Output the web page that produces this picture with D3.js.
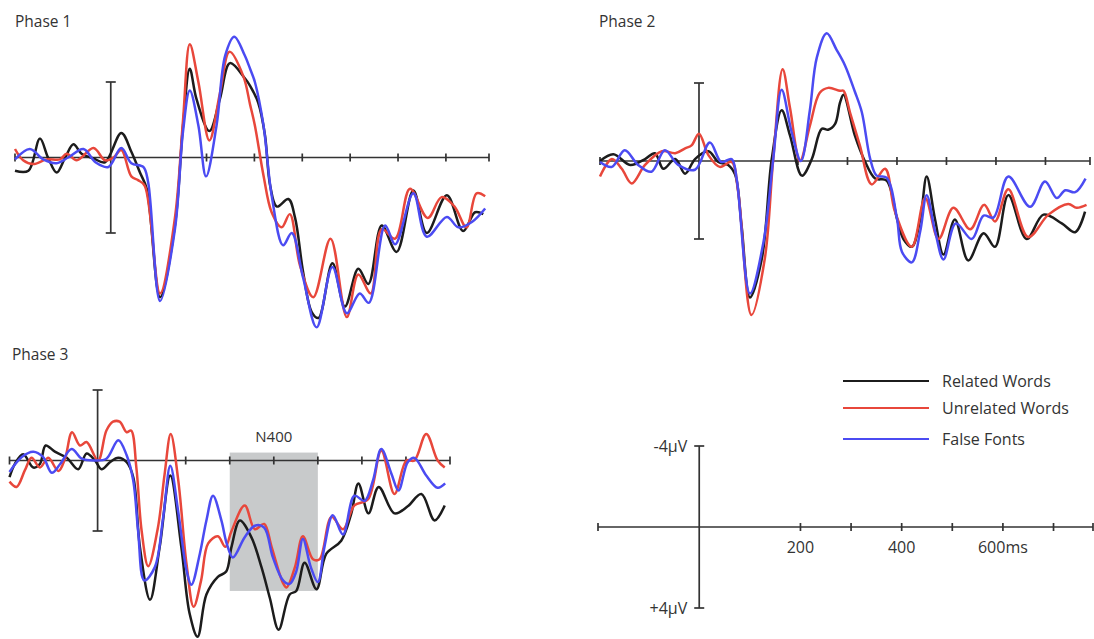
<!DOCTYPE html>
<html lang="en">
<head>
<meta charset="UTF-8">
<title>ERP waveforms - Phase 1-3</title>
<script src="https://d3js.org/d3.v7.min.js"></script>
<style>
body { margin: 0; background: #fff; }
svg text { font-family: "Open Sans", "Noto Sans", sans-serif; fill: #333; }
.wave { fill: none; stroke-width: 2.5px; stroke-linejoin: round; }
.axis { stroke: #333; stroke-width: 1.7px; fill: none; }
</style>
</head>
<body>
<div id="chart"></div>
<script>
// series = [ms, µV] pairs, negative plotted up
var seriesNames = ["Related Words", "Unrelated Words", "False Fonts"];
var seriesColors = ["#1c1c1c", "#e8473b", "#4b4bf2"];
var tickValues = [200, 300, 400, 500, 600, 700];
var scaleLabels = [200, 400, 600];
var scaleVolts = [-4, 4];
var n400Window = [300, 500];
var n400Volts = [-0.45, 7.4];

var p1Related = [[-200,0.7],[-172,0.7],[-148,-1.0],[-131,0],[-113,0.8],[-96,0.05],[-78,-0.7],[-61,-0.2],[-36,0.05],[-12,0.25],[22,-1.3],[43,-0.3],[61,0.8],[75,1.65],[103,7.4],[134,3.6],[151,-1.7],[165,-4.7],[179,-3.1],[206,-1.4],[228,-3.1],[249,-5.0],[280,-4.2],[291,-3.8],[308,-2.9],[322,-1.2],[333,1.5],[347,2.6],[371,2.2],[385,3.2],[402,6.1],[420,8.2],[434,8.5],[463,5.6],[489,7.9],[517,5.9],[538,6.7],[566,3.6],[597,5.0],[632,1.75],[660,4.0],[702,2.0],[736,3.9],[761,2.9],[778,3.0]];
var p1Unrelated = [[-200,-0.45],[-183,0.15],[-162,0.35],[-134,0.1],[-106,0.1],[-92,-0.2],[-71,0.15],[-36,-0.5],[-12,0.15],[6,0],[22,-0.4],[43,1.0],[57,1.2],[71,1.5],[103,7.2],[134,3.2],[151,-2.0],[165,-6.0],[183,-4.0],[206,-0.9],[228,-3.4],[248,-5.6],[277,-4.3],[291,-2.8],[301,-1.7],[319,0.95],[336,2.9],[357,3.7],[374,3.0],[395,5.7],[423,7.4],[459,4.3],[493,8.45],[517,6.2],[543,7.2],[566,3.8],[594,4.3],[625,1.65],[662,3.2],[691,2.1],[718,2.6],[743,3.7],[764,1.9],[782,2.05]];
var p1False = [[-200,0.1],[-169,-0.45],[-141,0.1],[-113,0.3],[-89,0],[-57,-0.45],[-32,0.25],[-5,0.5],[22,-0.5],[43,0.3],[68,0.5],[78,1.3],[103,7.6],[134,3.8],[151,-1.4],[165,-3.55],[183,-1.7],[199,1.0],[221,-1.7],[239,-5.4],[258,-6.4],[280,-5.4],[291,-4.7],[301,-4.0],[319,-1.7],[336,2.0],[360,4.65],[378,4.0],[402,6.4],[430,9.0],[463,5.8],[493,8.25],[520,7.2],[539,7.7],[573,3.6],[594,4.6],[632,1.9],[660,4.2],[702,3.15],[726,3.7],[755,3.4],[782,2.7]];

var p2Related = [[-200,0],[-173,-0.35],[-139,0.2],[-109,-0.1],[-89,-0.4],[-72,0.4],[-48,-0.1],[-28,0.65],[-8,-0.1],[19,-0.5],[39,0.05],[59,0.2],[73,0.7],[86,3.3],[103,7.0],[127,5.0],[147,-0.1],[167,-2.6],[184,-1.3],[208,0.75],[228,-0.1],[248,-1.65],[261,-1.6],[275,-1.9],[285,-3.0],[292,-3.4],[315,-1.3],[335,0],[356,0.9],[379,1.0],[400,2.95],[413,4.0],[430,4.4],[447,3.0],[460,0.8],[477,3.0],[494,4.8],[517,3.0],[544,5.1],[575,3.7],[598,4.4],[625,1.75],[662,4.0],[696,2.75],[733,3.2],[760,3.65],[780,2.6]];
var p2Unrelated = [[-200,0.8],[-176,-0.1],[-156,0.4],[-136,1.15],[-109,0.2],[-75,-0.5],[-48,-0.4],[-28,-0.65],[-15,-0.8],[0,-1.4],[19,-0.3],[42,0.3],[66,0.05],[79,1.55],[106,7.9],[133,5.0],[150,-0.1],[169,-4.7],[184,-2.7],[204,0],[224,-1.8],[244,-3.5],[261,-3.75],[285,-3.6],[292,-3.6],[305,-2.5],[325,-0.8],[349,1.2],[376,0.4],[396,2.6],[430,4.4],[457,1.9],[484,4.0],[514,2.4],[548,3.5],[576,2.25],[598,3.1],[625,1.45],[665,3.9],[706,2.75],[746,2.2],[763,2.4],[783,2.25]];
var p2False = [[-200,0.05],[-176,0.3],[-150,-0.55],[-123,0.2],[-96,0.55],[-69,-0.55],[-42,0.2],[-8,0.45],[22,-0.95],[45,0.05],[66,-0.1],[76,0.9],[103,6.8],[130,4.2],[150,-0.1],[167,-3.65],[187,-1.5],[206,0],[224,-2.6],[238,-5.3],[258,-6.55],[278,-5.7],[295,-4.9],[315,-3.55],[329,-2.5],[346,-0.1],[359,0.75],[379,0.85],[400,2.95],[410,4.65],[430,5.2],[447,3.6],[460,1.75],[477,3.6],[494,5.05],[519,3.2],[551,4.0],[575,2.8],[595,2.9],[625,0.8],[669,2.35],[699,1.05],[723,1.9],[740,1.5],[760,1.6],[781,0.9]];

var p3Related = [[-200,0.95],[-188,0.2],[-169,-0.35],[-146,0.4],[-131,0.2],[-118,-0.85],[-97,-0.5],[-70,-0.15],[-44,0.5],[-25,-0.4],[-6,0],[9,0.5],[28,0.1],[47,-0.15],[66,0.1],[81,0.95],[96,4.9],[119,7.9],[141,4.9],[165,0.85],[190,4.9],[209,8.7],[227,10.0],[247,7.6],[273,6.6],[292,6.3],[304,4.9],[323,3.4],[349,4.35],[372,6.05],[391,7.8],[411,9.6],[436,7.6],[451,7.4],[470,5.8],[497,7.3],[519,5.3],[553,4.55],[576,3.0],[592,1.3],[615,3.0],[638,1.5],[674,3.0],[704,2.6],[735,1.9],[765,3.4],[788,2.55]];
var p3Unrelated = [[-200,1.2],[-184,1.5],[-165,0.55],[-150,-0.15],[-131,0.4],[-112,-0.15],[-89,0.6],[-74,-0.1],[-58,-1.6],[-40,-0.85],[-25,-1.05],[1,0],[20,-1.7],[35,-2.2],[50,-2.2],[66,-1.6],[76,-1.7],[88,0.4],[100,4.0],[115,6.0],[137,3.8],[152,0.8],[166,-1.5],[183,1.1],[202,5.9],[218,8.3],[235,6.8],[251,4.7],[273,4.3],[290,4.9],[304,4.0],[334,2.55],[357,3.9],[378,3.6],[395,4.9],[420,6.9],[429,7.2],[448,6.05],[466,4.3],[489,5.6],[504,5.6],[531,3.2],[557,3.9],[583,2.55],[614,2.2],[644,-0.55],[674,1.9],[701,0],[719,0],[746,-1.5],[772,0],[788,0.4]];
var p3False = [[-200,0.65],[-172,-0.2],[-146,-0.5],[-124,-0.2],[-104,0.7],[-85,0.2],[-59,-0.65],[-36,-0.1],[-6,0],[20,-0.1],[47,-1.15],[66,-0.3],[81,1.15],[92,4.0],[106,6.8],[130,6.05],[149,3.2],[165,0.3],[183,2.9],[202,6.25],[213,7.05],[232,5.3],[247,3.4],[262,2.0],[281,3.4],[293,4.7],[307,5.5],[334,4.35],[357,3.7],[378,3.8],[398,5.5],[421,6.8],[436,7.0],[451,6.3],[466,4.45],[484,6.05],[500,6.9],[515,4.9],[534,3.1],[557,4.2],[583,2.0],[606,2.3],[625,1.15],[644,-0.65],[667,0.75],[683,1.7],[704,0.1],[719,-0.15],[746,0.85],[772,1.55],[789,1.3]];

var width = 1094, height = 639;
var svg = d3.select("#chart").append("svg")
    .attr("width", width).attr("height", height);

// panel layout (pixels)
var panels = [
    {title: "Phase 1", data: [p1Related, p1Unrelated, p1False], left: 15, right: 489, tEnd: 790, top: 82, bottom: 233, tx: 15, ty: 27},
    {title: "Phase 2", data: [p2Related, p2Unrelated, p2False], left: 600, right: 1090, tEnd: 790, top: 83, bottom: 239, tx: 599, ty: 27},
    {title: "Phase 3", data: [p3Related, p3Unrelated, p3False], left: 9.5, right: 450, tEnd: 800, top: 390, bottom: 531, tx: 12, ty: 360, n400: true}
];
var scalePanel = {left: 598, right: 1093, tEnd: 778, top: 446, bottom: 608};

function drawFrame(g, p, x, y) {
    var y0 = y(0);
    g.append("line").attr("class", "axis")
        .attr("x1", x(-200)).attr("x2", x(p.tEnd)).attr("y1", y0).attr("y2", y0);
    g.selectAll("line.tick")
        .data([-200].concat(tickValues, [p.tEnd]))
        .enter().append("line").attr("class", "axis tick")
        .attr("x1", function(d) { return x(d); }).attr("x2", function(d) { return x(d); })
        .attr("y1", y0 - 4).attr("y2", y0 + 4);
    // voltage bar at 0 ms
    g.append("line").attr("class", "axis")
        .attr("x1", x(0)).attr("x2", x(0))
        .attr("y1", y(scaleVolts[0])).attr("y2", y(scaleVolts[1]));
    g.selectAll("line.cap")
        .data(scaleVolts).enter().append("line").attr("class", "axis cap")
        .attr("x1", x(0) - 5).attr("x2", x(0) + 5)
        .attr("y1", function(d) { return y(d); }).attr("y2", function(d) { return y(d); });
}

panels.forEach(function(p) {
    var x = d3.scaleLinear().domain([-200, p.tEnd]).range([p.left, p.right]);
    var y = d3.scaleLinear().domain([-4, 4]).range([p.top, p.bottom]);
    var g = svg.append("g");

    g.append("text").attr("x", p.tx).attr("y", p.ty)
        .style("font-size", "15.5px").text(p.title);

    if (p.n400) {
        g.append("rect")
            .attr("x", x(n400Window[0])).attr("width", x(n400Window[1]) - x(n400Window[0]))
            .attr("y", y(n400Volts[0])).attr("height", y(n400Volts[1]) - y(n400Volts[0]))
            .attr("fill", "#c8cacb");
        g.append("text")
            .attr("x", (x(n400Window[0]) + x(n400Window[1])) / 2).attr("y", y(n400Volts[0]) - 11)
            .attr("text-anchor", "middle").style("font-size", "15px").text("N400");
    }

    drawFrame(g, p, x, y);

    var line = d3.line()
        .x(function(d) { return x(d[0]); })
        .y(function(d) { return y(d[1]); })
        .curve(d3.curveCatmullRom.alpha(0.5));

    g.selectAll("path.wave")
        .data(p.data).enter().append("path")
        .attr("class", "wave")
        .attr("stroke", function(d, i) { return seriesColors[i]; })
        .attr("d", line);
});

// scale / legend panel
(function() {
    var p = scalePanel;
    var x = d3.scaleLinear().domain([-200, p.tEnd]).range([p.left, p.right]);
    var y = d3.scaleLinear().domain([-4, 4]).range([p.top, p.bottom]);
    var g = svg.append("g");
    drawFrame(g, p, x, y);

    g.selectAll("text.vlab")
        .data(scaleVolts).enter().append("text")
        .attr("x", x(0) - 12).attr("y", function(d) { return y(d); })
        .attr("dy", "0.35em").attr("text-anchor", "end")
        .style("font-size", "16px")
        .text(function(d) { return (d < 0 ? "-" : "+") + Math.abs(d) + "\u00b5V"; });

    g.selectAll("text.tlab")
        .data(scaleLabels).enter().append("text")
        .attr("x", function(d) { return x(d); }).attr("y", y(0) + 26)
        .attr("text-anchor", "middle").style("font-size", "16px")
        .text(function(d, i) { return i === scaleLabels.length - 1 ? d + "ms" : d; });

    var legend = g.selectAll("g.legend")
        .data(seriesNames).enter().append("g")
        .attr("transform", function(d, i) { return "translate(843," + [381, 408, 439][i] + ")"; });
    legend.append("line")
        .attr("x1", 0).attr("x2", 86)
        .attr("stroke", function(d, i) { return seriesColors[i]; })
        .attr("stroke-width", 2);
    legend.append("text")
        .attr("x", 99).attr("dy", "0.35em")
        .style("font-size", "16px")
        .text(function(d) { return d; });
})();
</script>
</body>
</html>
